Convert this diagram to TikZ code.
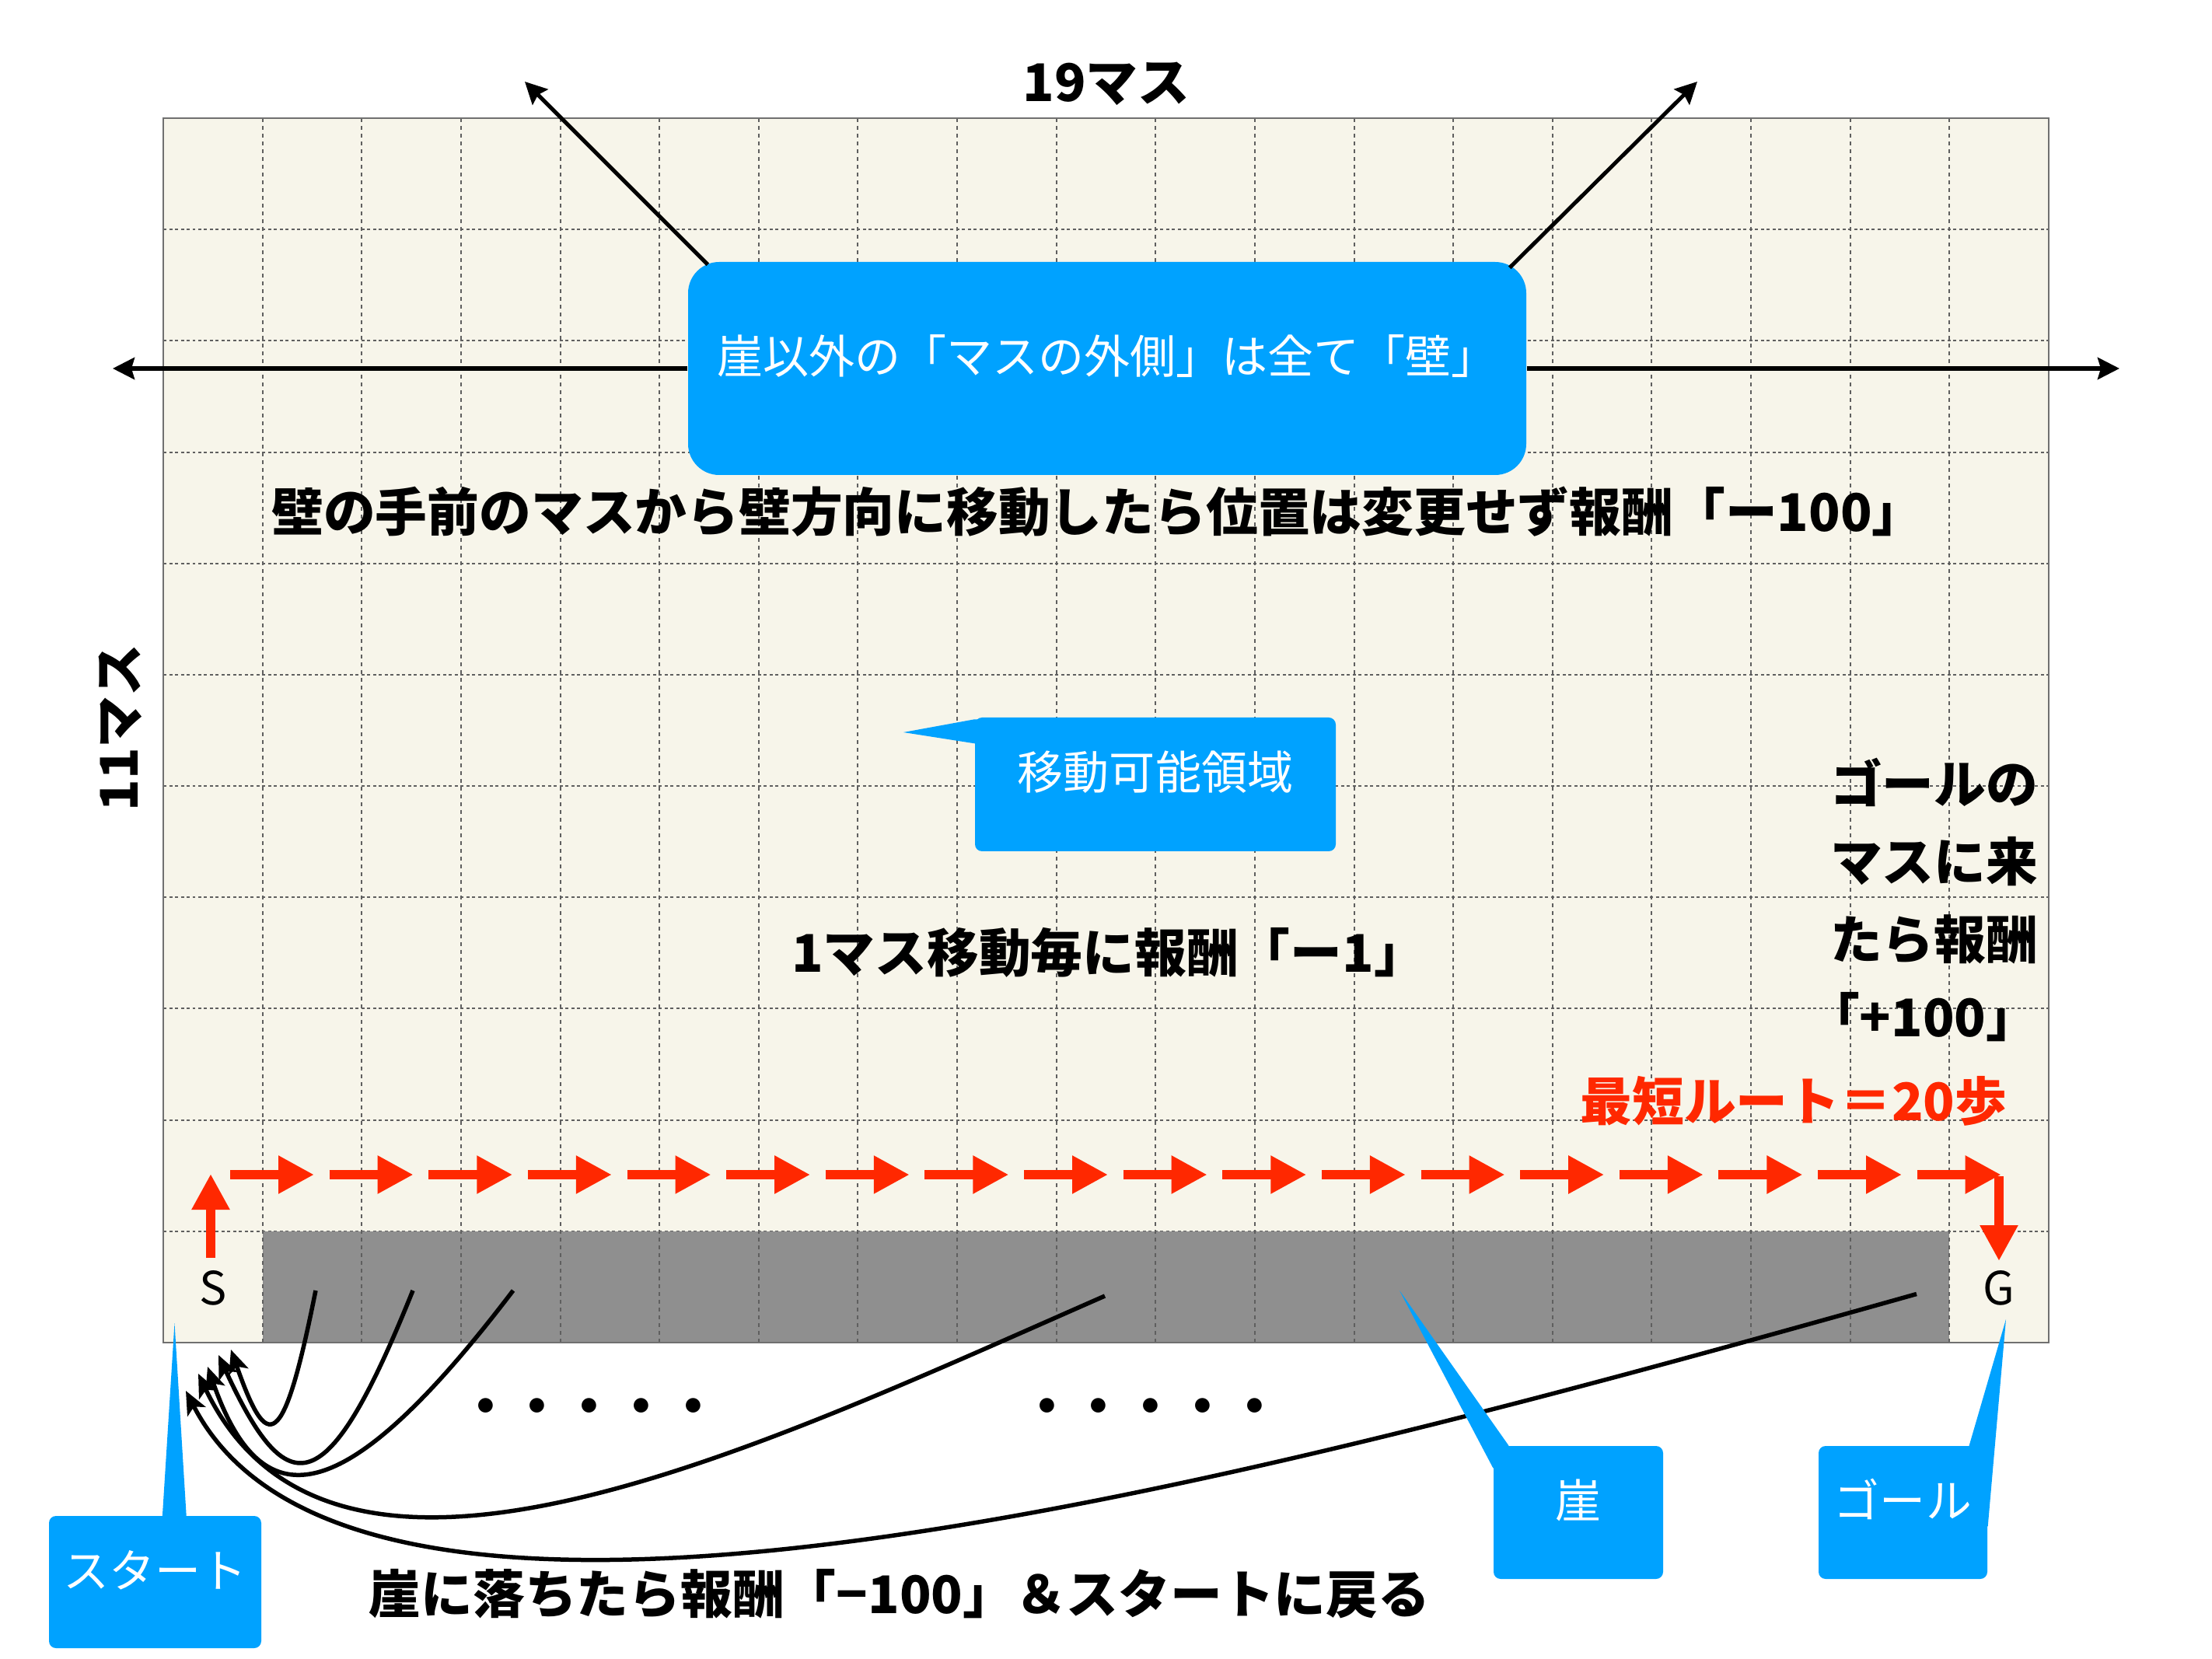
\documentclass[tikz,border=0pt]{standalone}
\usepackage{fontspec}
\setmainfont{Noto Sans CJK JP}
\usetikzlibrary{arrows.meta}

\definecolor{gridbg}{RGB}{247,245,234}
\definecolor{gridgray}{RGB}{95,95,95}
\definecolor{bordergray}{RGB}{112,112,112}
\definecolor{cliffgray}{RGB}{143,143,143}
\definecolor{noteblue}{RGB}{0,162,255}
\definecolor{routered}{RGB}{255,40,0}

\tikzset{
    hline/.style={draw=gridgray, line width=0.02cm, dash pattern=on 0.04cm off 0.035cm},
    vline/.style={draw=gridgray, line width=0.02cm, dash pattern=on 0.055cm off 0.045cm},
    border/.style={draw=bordergray, line width=0.025cm},
    routestep/.style={draw=routered, line width=0.12cm, -{Triangle[width=0.46cm, length=0.46cm]}},
    wallarrow/.style={line width=0.055cm, -{Stealth[length=0.28cm, width=0.28cm, inset=0.04cm]}},
    fallarrow/.style={line width=0.055cm, -{Stealth[length=0.3cm, width=0.26cm, inset=0.07cm]}},
    bigtext/.style={font=\fontsize{19}{23}\selectfont\bfseries, inner sep=0pt},
    celltext/.style={font=\fontsize{16.8}{20}\selectfont, inner sep=0pt},
    notebox/.style={fill=noteblue, text=white, font=\fontsize{16.8}{20}\selectfont,
        text height=0.53cm, text depth=0.39cm, inner sep=0pt, rounded corners=0.09cm},
}

\begin{document}
\begin{tikzpicture}
    \useasboundingbox (0,0) rectangle (28.45,-21.34);

    % field 19 x 11
    \fill[gridbg] (2.10,-1.52) rectangle (26.35,-17.27);
    \foreach \j in {1,...,10}
        \draw[hline] (2.10,-1.52-1.4318*\j) -- (26.35,-1.52-1.4318*\j);
    \fill[cliffgray] (3.376,-15.838) rectangle (25.074,-17.27);
    \foreach \i in {1,...,18}
        \draw[vline] (2.10+1.2763*\i,-1.52) -- (2.10+1.2763*\i,-17.27);
    \draw[border] (2.10,-1.52) rectangle (26.35,-17.27);

    \node[celltext] (start) at (2.74,-16.57) {S};
    \node[celltext] (goal) at (25.71,-16.57) {G};

    % shortest route
    \draw[routestep] (2.71,-16.18) -- (2.71,-15.10);
    \foreach \i in {0,...,17}
        \draw[routestep] (2.96+1.2763*\i,-15.11) -- ++(1.08,0);
    \draw[routestep] (25.71,-15.13) -- (25.71,-16.22);

    % texts
    \node[bigtext] (cols) at (14.23,-1.08) {19マス};
    \node[bigtext, rotate=90] (rows) at (1.55,-9.36) {11マス};
    \node[bigtext] (wallrule) at (14.12,-6.58) {壁の手前のマスから壁方向に移動したら位置は変更せず報酬「ー100」};
    \node[bigtext] (steprule) at (14.26,-12.25) {1マス移動毎に報酬「ー1」};
    \node[bigtext, font=\fontsize{19}{28.45}\selectfont\bfseries, align=right, anchor=east]
        (goalrule) at (26.22,-11.57) {ゴールの\\マスに来\\たら報酬\\「+100」};
    \node[bigtext, text=routered] (shortest) at (23.07,-14.16) {最短ルート＝20歩};
    \node[bigtext] (fallrule) at (11.57,-20.50) {崖に落ちたら報酬「−100」＆スタートに戻る};
    \node[bigtext] (dotsA) at (7.58,-18.16) {・・・・・};
    \node[bigtext] (dotsB) at (14.80,-18.16) {・・・・・};

    % falls back to the start
    \coordinate (fall1) at (4.06,-16.60);
    \coordinate (fall2) at (5.31,-16.60);
    \coordinate (fall3) at (6.60,-16.60);
    \coordinate (fall4) at (14.21,-16.67);
    \coordinate (fall5) at (24.65,-16.645);
    \coordinate (land1) at (2.97,-17.36);
    \coordinate (land2) at (2.81,-17.43);
    \coordinate (land3) at (2.67,-17.58);
    \coordinate (land4) at (2.55,-17.67);
    \coordinate (land5) at (2.39,-17.89);
    \draw[fallarrow] (fall1) .. controls +(-0.42,-2.10) and +(0.47,-1.34) .. (land1);
    \draw[fallarrow] (fall2) .. controls +(-1.11,-2.76) and +(0.89,-1.93) .. (land2);
    \draw[fallarrow] (fall3) .. controls +(-2.23,-2.93) and +(0.68,-1.95) .. (land3);
    \draw[fallarrow] (fall4) .. controls +(-4.58,-2.01) and +(1.72,-3.60) .. (land4);
    \draw[fallarrow] (fall5) .. controls +(-8.64,-2.43) and +(2.20,-4.27) .. (land5);

    % callouts
    \node[notebox, minimum width=10.78cm, minimum height=2.74cm, rounded corners=0.4cm]
        (wallnote) at (14.24,-4.74) {崖以外の「マスの外側」は全て「壁」};
    \coordinate (wallW) at (1.45,-4.74);
    \coordinate (wallE) at (27.26,-4.74);
    \coordinate (wallNW) at (6.75,-1.05);
    \coordinate (wallNE) at (21.83,-1.05);
    \draw[wallarrow] (wallnote.west) -- (wallW);
    \draw[wallarrow] (wallnote.east) -- (wallE);
    \draw[wallarrow, line width=0.05cm] ([shift={(0.26cm,-0.04cm)}]wallnote.north west) -- (wallNW);
    \draw[wallarrow, line width=0.05cm] ([shift={(-0.22cm,-0.08cm)}]wallnote.north east) -- (wallNE);

    \node[notebox, minimum width=4.64cm, minimum height=1.72cm] (areanote) at (14.86,-10.09) {移動可能領域};
    \coordinate (areatip) at (11.62,-9.42);
    \fill[noteblue] (areatip) -- ([yshift=-0.03cm]areanote.north west)
        -- ([shift={(0.15cm,-0.03cm)}]areanote.north west)
        -- ([shift={(0.15cm,-0.34cm)}]areanote.north west)
        -- ([yshift=-0.34cm]areanote.north west) -- cycle;

    \node[notebox, minimum width=2.73cm, minimum height=1.70cm] (startnote) at (1.995,-20.35) {スタート};
    \coordinate (starttip) at (2.245,-17.02);
    \fill[noteblue] (starttip) -- ([shift={(1.78cm,-0.1cm)}]startnote.north west)
        -- ([shift={(1.46cm,-0.1cm)}]startnote.north west) -- cycle;

    \node[notebox, minimum width=2.18cm, minimum height=1.71cm] (cliffnote) at (20.30,-19.455) {崖};
    \coordinate (clifftip) at (18.00,-16.60);
    \fill[noteblue] (clifftip) -- ([xshift=0.2cm]cliffnote.north west)
        -- ([shift={(0.2cm,-0.29cm)}]cliffnote.north west)
        -- ([yshift=-0.29cm]cliffnote.north west) -- cycle;

    \node[notebox, minimum width=2.17cm, minimum height=1.71cm] (goalnote) at (24.475,-19.455) {ゴール};
    \coordinate (goaltip) at (25.80,-16.97);
    \fill[noteblue] (goaltip) -- ([xshift=-0.24cm]goalnote.north east)
        -- ([shift={(-0.24cm,-1.04cm)}]goalnote.north east)
        -- ([yshift=-1.04cm]goalnote.north east) -- cycle;
\end{tikzpicture}
\end{document}
